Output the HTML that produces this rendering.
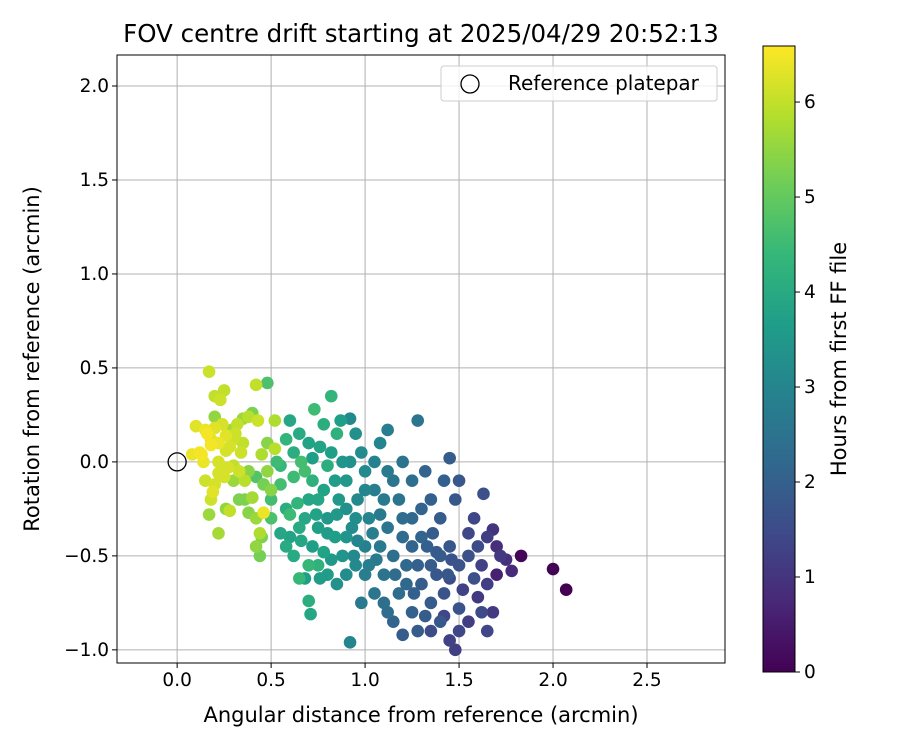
<!DOCTYPE html>
<html><head><meta charset="utf-8"><style>
body{margin:0;background:#fff;font-family:"Liberation Sans","DejaVu Sans",sans-serif}
</style></head><body>
<svg id="c" width="900" height="750" xmlns="http://www.w3.org/2000/svg" font-family="DejaVu Sans, Liberation Sans, sans-serif"></svg>
<script>
const xTicks=[0.0,0.5,1.0,1.5,2.0,2.5];
const yTicks=[-1.0,-0.5,0.0,0.5,1.0,1.5,2.0];
const cbTicks=[0,1,2,3,4,5,6];
const yellow=[[0.08,0.04,6.4],[0.1,0.19,6.3],[0.13,0.04,6.5],[0.15,0.17,6.4],[0.17,0.48,6.1],[0.18,0.12,6.3],[0.2,0.35,6.0],[0.22,0.0,6.2],[0.23,0.33,6.1],[0.25,0.38,6.0],[0.26,0.14,6.3],[0.28,0.08,6.2],[0.3,0.12,6.1],[0.32,0.2,6.0],[0.22,0.1,6.4],[0.27,-0.03,6.2],[0.19,-0.16,6.3],[0.15,-0.1,6.1],[0.22,-0.06,6.2],[0.3,-0.02,6.0],[0.34,0.05,6.1],[0.42,0.41,6.0],[0.46,-0.27,6.4],[0.38,0.24,5.9],[0.12,0.05,6.5],[0.16,0.15,6.5],[0.24,0.2,6.2],[0.35,0.1,6.0],[0.18,-0.2,6.1],[0.28,-0.26,6.0],[0.2,0.18,6.3],[0.43,0.22,6.1],[0.25,-0.08,6.2],[0.14,0.0,6.4],[0.33,-0.05,6.1],[0.18,0.09,6.5],[0.26,0.06,6.2],[0.31,0.15,6.1],[0.36,-0.1,5.9],[0.2,-0.12,6.2]];
const greenYellow=[[0.17,-0.28,5.6],[0.22,-0.38,5.7],[0.2,0.24,5.5],[0.3,-0.1,5.6],[0.36,-0.2,5.3],[0.38,-0.27,5.4],[0.42,-0.3,5.6],[0.44,-0.5,5.2],[0.42,-0.45,5.5],[0.4,-0.19,5.7],[0.45,0.04,5.8],[0.48,0.1,5.4],[0.4,0.26,5.3],[0.52,0.22,5.8],[0.5,-0.15,5.4],[0.44,-0.38,5.8],[0.35,0.23,5.6],[0.48,-0.05,5.5],[0.33,-0.2,5.3],[0.26,-0.25,5.5],[0.45,-0.4,5.3],[0.52,0.07,5.9],[0.29,0.17,5.7],[0.38,-0.05,5.4],[0.46,-0.12,5.2]];
const green=[[0.48,0.42,4.7],[0.42,-0.08,4.8],[0.5,-0.2,4.6],[0.55,-0.02,4.4],[0.62,-0.08,4.5],[0.66,0.0,4.6],[0.68,-0.05,4.6],[0.53,0.0,4.5],[0.58,0.12,4.3],[0.65,-0.62,4.4],[0.7,-0.55,4.4],[0.75,-0.55,4.2],[0.6,-0.28,4.5],[0.72,-0.1,4.2],[0.64,-0.22,4.3],[0.8,-0.02,4.1],[0.78,0.2,4.1],[0.85,0.15,4.2],[0.82,0.35,4.3],[0.73,0.28,4.5],[0.5,-0.3,4.7],[0.55,-0.12,4.6]];
const teal=[[0.55,-0.38,3.9],[0.6,-0.4,3.8],[0.58,-0.45,4.0],[0.68,-0.62,3.7],[0.7,-0.74,4.1],[0.71,-0.81,3.9],[0.75,-0.35,3.7],[0.78,-0.48,3.8],[0.8,-0.6,3.6],[0.84,-0.4,3.7],[0.65,-0.35,4.0],[0.6,0.22,3.9],[0.62,0.05,4.1],[0.7,0.1,3.8],[0.75,-0.2,3.9],[0.72,-0.45,3.7],[0.85,-0.28,3.5],[0.88,-0.5,3.4],[0.9,-0.1,3.5],[0.92,0.0,3.3],[0.82,0.05,3.7],[0.65,0.15,4.0],[0.68,-0.3,3.9],[0.76,-0.62,3.6],[0.58,-0.25,4.1],[0.9,-0.4,3.4],[0.95,-0.3,3.2],[0.87,0.22,3.7],[0.78,-0.15,3.8],[0.62,-0.5,4.0],[0.66,-0.42,3.9],[0.74,-0.28,3.8],[0.8,-0.38,3.6],[0.86,-0.2,3.5],[0.7,-0.2,3.9],[0.76,0.08,3.8],[0.82,-0.52,3.5],[0.72,0.02,3.7]];
const tealBlue=[[0.92,-0.96,3.0],[0.9,-0.6,3.2],[0.95,-0.55,3.1],[1.0,-0.45,2.9],[1.02,-0.3,3.0],[1.05,-0.15,2.8],[0.98,0.05,3.2],[1.0,-0.05,3.1],[1.05,0.0,2.9],[1.08,0.1,3.0],[1.1,-0.2,2.7],[1.12,-0.35,2.6],[0.95,0.15,3.3],[0.88,0.0,3.4],[0.96,-0.2,3.1],[1.08,-0.45,2.7],[1.0,-0.6,2.8],[1.05,-0.7,2.6],[0.98,-0.75,2.7],[0.85,-0.65,3.3],[1.12,0.17,2.8],[0.92,0.23,3.1],[1.15,-0.1,2.6],[0.8,-0.3,3.5],[0.84,-0.1,3.6],[1.02,-0.55,2.8],[1.1,-0.6,2.5],[0.93,-0.35,3.2],[0.96,-0.42,3.0],[1.04,-0.38,2.8],[1.06,-0.52,2.7],[0.9,-0.25,3.3],[1.0,-0.15,3.0],[1.12,-0.05,2.7],[0.94,-0.5,3.1],[1.08,-0.28,2.7]];
const blue=[[1.15,-0.5,2.4],[1.2,-0.4,2.3],[1.25,-0.3,2.2],[1.3,-0.25,2.1],[1.22,-0.55,2.2],[1.18,-0.7,2.3],[1.15,-0.85,2.1],[1.2,-0.92,1.9],[1.25,-0.8,2.0],[1.3,-0.65,1.9],[1.35,-0.55,1.9],[1.28,0.22,2.6],[1.2,0.0,2.5],[1.25,-0.1,2.4],[1.32,-0.05,2.1],[1.35,-0.2,2.0],[1.4,-0.3,1.9],[1.38,-0.6,1.8],[1.42,-0.7,1.7],[1.45,-0.45,1.8],[1.5,-0.55,1.7],[1.48,-0.2,1.8],[1.45,0.02,1.9],[1.55,-0.5,1.6],[1.6,-0.45,1.5],[1.58,-0.62,1.6],[1.62,-0.8,1.5],[1.65,-0.9,1.4],[1.4,-0.85,1.8],[1.28,-0.9,1.9],[1.1,-0.75,2.4],[1.12,-0.8,2.3],[1.35,-0.75,1.9],[1.5,-0.78,1.7],[1.42,-0.1,2.0],[1.3,-0.4,2.1],[1.18,-0.2,2.5],[1.22,-0.65,2.2],[1.63,-0.17,1.6],[1.5,-0.1,1.8],[1.25,-0.45,2.1],[1.4,-0.5,1.9],[1.28,-0.55,2.0],[1.33,-0.45,2.0],[1.36,-0.38,1.9],[1.44,-0.6,1.8],[1.2,-0.3,2.3],[1.26,-0.7,2.0],[1.38,-0.48,1.9],[1.46,-0.52,1.7],[1.16,-0.6,2.3],[1.32,-0.82,1.9]];
const purple=[[1.35,-0.9,1.5],[1.45,-0.95,1.3],[1.48,-1.0,1.2],[1.5,-0.9,1.4],[1.55,-0.85,1.2],[1.6,-0.72,1.1],[1.62,-0.55,1.3],[1.65,-0.4,1.2],[1.68,-0.36,1.0],[1.7,-0.45,0.9],[1.72,-0.5,1.1],[1.75,-0.52,0.9],[1.68,-0.8,1.1],[1.78,-0.58,0.8],[1.55,-0.38,1.4],[1.52,-0.68,1.3],[1.45,-0.62,1.5],[1.58,-0.3,1.4],[1.42,-0.82,1.4],[1.65,-0.65,1.2]];
const dark=[[1.83,-0.5,0.1],[2.0,-0.57,0.05],[2.07,-0.68,0.0],[1.7,-0.6,0.6]];
const refPoint=[0,0];

const svg=document.getElementById('c');const NS='http://www.w3.org/2000/svg';
function el(t,a,p){const e=document.createElementNS(NS,t);for(const k in a)e.setAttribute(k,a[k]);(p||svg).appendChild(e);return e;}
const L=117,R=725,T=55,B=663,xmin=-0.32,xmax=2.915,ymin=-1.07,ymax=2.165;
const X=v=>L+(v-xmin)/(xmax-xmin)*(R-L);
const Y=v=>B-(v-ymin)/(ymax-ymin)*(B-T);
const cbT=46,cbB=672,cbMax=6.59;
const CY=v=>cbB-v/cbMax*(cbB-cbT);
const vir=[[68,1,84],[72,40,120],[62,74,137],[49,104,142],[38,130,142],[31,158,137],[53,183,121],[109,205,89],[180,222,44],[253,231,37]];
function cmap(t){t=Math.max(0,Math.min(1,t));const f=t*(vir.length-1),i=Math.min(Math.floor(f),vir.length-2),r=f-i;const c=vir[i].map((v,k)=>Math.round(v+(vir[i+1][k]-v)*r));return `rgb(${c[0]},${c[1]},${c[2]})`;}
const g=el('g',{});
xTicks.forEach(v=>{const l=el('line',{x1:X(v),x2:X(v),y1:T,y2:B,stroke:'#b0b0b0','stroke-width':1},g);});
yTicks.forEach(v=>{const l=el('line',{x1:L,x2:R,y1:Y(v),y2:Y(v),stroke:'#b0b0b0','stroke-width':1},g);});
const pts=[].concat(dark,purple,blue,tealBlue,teal,green,greenYellow,yellow).sort((a,b)=>a[2]-b[2]);
const pg=el('g',{});
pts.forEach(p=>{const c=el('circle',{cx:X(p[0]),cy:Y(p[1]),r:6.3,fill:cmap(p[2]/cbMax)},pg);});
const rc=el('circle',{cx:X(refPoint[0]),cy:Y(refPoint[1]),r:9,fill:'none',stroke:'#000','stroke-width':1.3});

const fr=el('rect',{x:L,y:T,width:R-L,height:B-T,fill:'none',stroke:'#000','stroke-width':1});
xTicks.forEach(v=>{el('line',{x1:X(v),x2:X(v),y1:B,y2:B+5,stroke:'#000'});const t=el('text',{x:X(v),y:B+23,'text-anchor':'middle','font-size':18.5});t.textContent=v.toFixed(1);});
yTicks.forEach(v=>{el('line',{x1:L-5,x2:L,y1:Y(v),y2:Y(v),stroke:'#000'});const t=el('text',{x:L-8,y:Y(v)+6,'text-anchor':'end','font-size':18.5});t.textContent=(v<0?'\u2212'+(-v).toFixed(1):v.toFixed(1));});
let t=el('text',{x:421,y:722,'text-anchor':'middle','font-size':21});t.textContent='Angular distance from reference (arcmin)';
t=el('text',{x:0,y:0,'text-anchor':'middle','font-size':21,transform:`translate(39,${(T+B)/2}) rotate(-90)`});t.textContent='Rotation from reference (arcmin)';
t=el('text',{x:421,y:42,'text-anchor':'middle','font-size':24.5});t.textContent='FOV centre drift starting at 2025/04/29 20:52:13';
const lg=el('g',{});
el('rect',{x:441,y:66,width:276,height:35,rx:3,fill:'#fff','fill-opacity':0.8,stroke:'#ccc'},lg);
el('circle',{cx:470,cy:84,r:9,fill:'none',stroke:'#000','stroke-width':1.3},lg);
t=el('text',{x:508,y:90,'font-size':20},lg);t.textContent='Reference platepar';
const defs=el('defs',{});const gr=el('linearGradient',{id:'vg',x1:0,y1:1,x2:0,y2:0},defs);
vir.forEach((c,i)=>el('stop',{offset:i/(vir.length-1),'stop-color':`rgb(${c})`},gr));
const cb=el('rect',{x:763,y:cbT,width:32,height:cbB-cbT,fill:'url(#vg)',stroke:'#000'});
cbTicks.forEach(v=>{el('line',{x1:795,x2:800,y1:CY(v),y2:CY(v),stroke:'#000'});const tt=el('text',{x:804,y:CY(v)+6,'font-size':18.5});tt.textContent=v;});
t=el('text',{x:0,y:0,'text-anchor':'middle','font-size':21,transform:`translate(846,${(cbT+cbB)/2}) rotate(-90)`});t.textContent='Hours from first FF file';
</script>
</body></html>
